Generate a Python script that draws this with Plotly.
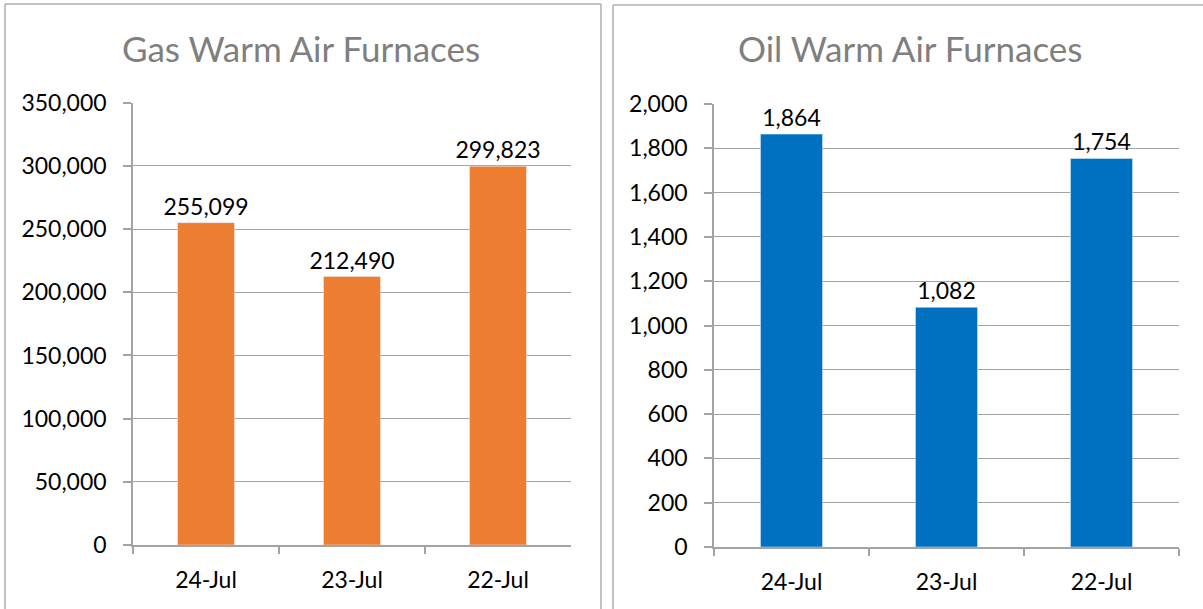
import plotly.graph_objects as go

categories = ["24-Jul", "23-Jul", "22-Jul"]
gas_values = [255099, 212490, 299823]
oil_values = [1864, 1082, 1754]
gas_title = "Gas Warm Air Furnaces"
oil_title = "Oil Warm Air Furnaces"

W, H = 1203, 609
FONT = "Lato"
GRID = "#A3A3A3"
BORDER = "#AFAFAF"

def px_x(v):
    return v / W

def px_y(v):
    return 1 - v / H

fig = go.Figure()
fig.add_trace(go.Bar(
    x=categories, y=gas_values, marker_color="#ED7D31", width=0.39,
    text=[f"{v:,}" for v in gas_values], textposition="outside",
    constraintext="none",
    textfont=dict(family=FONT, size=23, color="#000000"),
    cliponaxis=False, xaxis="x", yaxis="y", showlegend=False,
))
fig.add_trace(go.Bar(
    x=categories, y=oil_values, marker_color="#0070C0", width=0.40,
    text=[f"{v:,}" for v in oil_values], textposition="outside",
    constraintext="none",
    textfont=dict(family=FONT, size=23, color="#000000"),
    cliponaxis=False, xaxis="x2", yaxis="y2", showlegend=False,
))

xcommon = dict(type="category", showline=True, linecolor=GRID, linewidth=1.5,
               ticks="outside", tickson="boundaries", ticklen=7, tickcolor=GRID,
               tickwidth=1.5, showgrid=False, automargin=False,
               ticklabelstandoff=14,
               tickfont=dict(family=FONT, size=23, color="#000000"))
ycommon = dict(showline=True, linecolor=GRID, linewidth=1.5, ticks="outside",
               ticklen=8, tickcolor=GRID, tickwidth=1.5, showgrid=True,
               gridcolor=GRID, gridwidth=1.4, zeroline=False, automargin=False,
               ticklabelstandoff=12,
               tickformat=",d", tickfont=dict(family=FONT, size=23, color="#000000"))

def line(x0, y0, x1, y1):
    return dict(type="line", xref="paper", yref="paper",
                x0=px_x(x0), y0=px_y(y0), x1=px_x(x1), y1=px_y(y1),
                line=dict(color=BORDER, width=1.5))

fig.update_layout(
    width=W, height=H, autosize=False, margin=dict(l=0, r=0, t=0, b=0, pad=0),
    paper_bgcolor="white", plot_bgcolor="white",
    xaxis=dict(domain=[px_x(133), px_x(571)], anchor="y", **xcommon),
    yaxis=dict(domain=[px_y(545), px_y(102.8)], anchor="x", range=[0, 350000],
               dtick=50000, **ycommon),
    xaxis2=dict(domain=[px_x(714), px_x(1179)], anchor="y2", **xcommon),
    yaxis2=dict(domain=[px_y(547), px_y(104)], anchor="x2", range=[0, 2000],
                dtick=200, **ycommon),
    annotations=[
        dict(text=gas_title, x=px_x(300.5), y=px_y(48), xref="paper", yref="paper",
             showarrow=False, xanchor="center", yanchor="middle",
             font=dict(family=FONT, size=35, color="#7F7F7F")),
        dict(text=oil_title, x=px_x(910), y=px_y(48), xref="paper", yref="paper",
             showarrow=False, xanchor="center", yanchor="middle",
             font=dict(family=FONT, size=35, color="#7F7F7F")),
    ],
    shapes=[
        line(5, 4, 601, 4),
        line(5, 4, 5, 609),
        line(601, 4, 601, 609),
        line(613, 5, 1203, 5),
        line(613, 5, 613, 609),
    ],
)

fig.write_html(
    "out.html",
    config={"displayModeBar": False},
    post_script="document.body.style.margin='0';document.body.style.overflow='hidden';",
)
